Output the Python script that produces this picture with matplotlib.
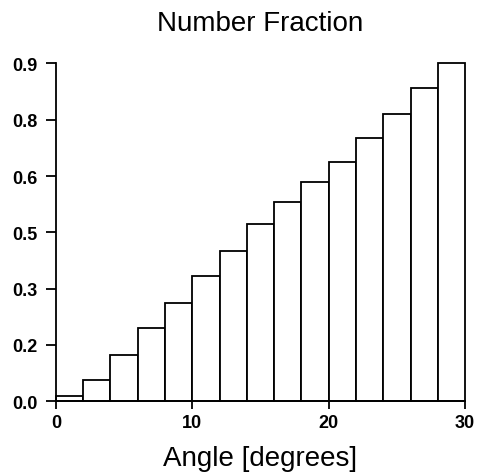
import matplotlib
matplotlib.use('Agg')
import matplotlib.pyplot as plt
import numpy as np

plt.rcParams['font.family'] = 'Liberation Sans'

# Data
bin_edges = np.arange(0, 32, 2)
fractions = [0.013, 0.057, 0.124, 0.194, 0.263, 0.333, 0.401, 0.472,
             0.531, 0.584, 0.638, 0.700, 0.766, 0.834, 0.900]
y_ticks = [0.0, 0.15, 0.3, 0.45, 0.6, 0.75, 0.9]
y_tick_labels = ['0.0', '0.2', '0.3', '0.5', '0.6', '0.8', '0.9']
x_ticks = [0, 10, 20, 30]

fig = plt.figure(figsize=(4.78, 4.77), dpi=100)
ax = fig.add_axes([0.117, 0.1566, 0.856, 0.7084])

bars = ax.bar(bin_edges[:-1], fractions, width=2, align='edge',
              color='white', edgecolor='black', linewidth=1.3)
for b in bars:
    b.set_clip_on(False)

ax.set_xlim(0, 30)
ax.set_ylim(0, 0.9)
ax.set_xticks(x_ticks)
ax.set_xticklabels([str(t) for t in x_ticks], fontsize=13, fontweight='bold')
ax.set_yticks(y_ticks)
ax.set_yticklabels(y_tick_labels, fontsize=13, fontweight='bold')
ax.tick_params(axis='y', direction='out', length=7, width=1.3, pad=6)
ax.tick_params(axis='x', direction='out', length=6, width=1.3, pad=3)

ax.spines['top'].set_visible(False)
ax.spines['right'].set_visible(False)
ax.spines['left'].set_linewidth(1.3)
ax.spines['bottom'].set_linewidth(1.3)

ax.set_title('Number Fraction', fontsize=20, pad=24)
ax.set_xlabel('Angle [degrees]', fontsize=20, labelpad=10)

fig.savefig('out.png', dpi=100)
